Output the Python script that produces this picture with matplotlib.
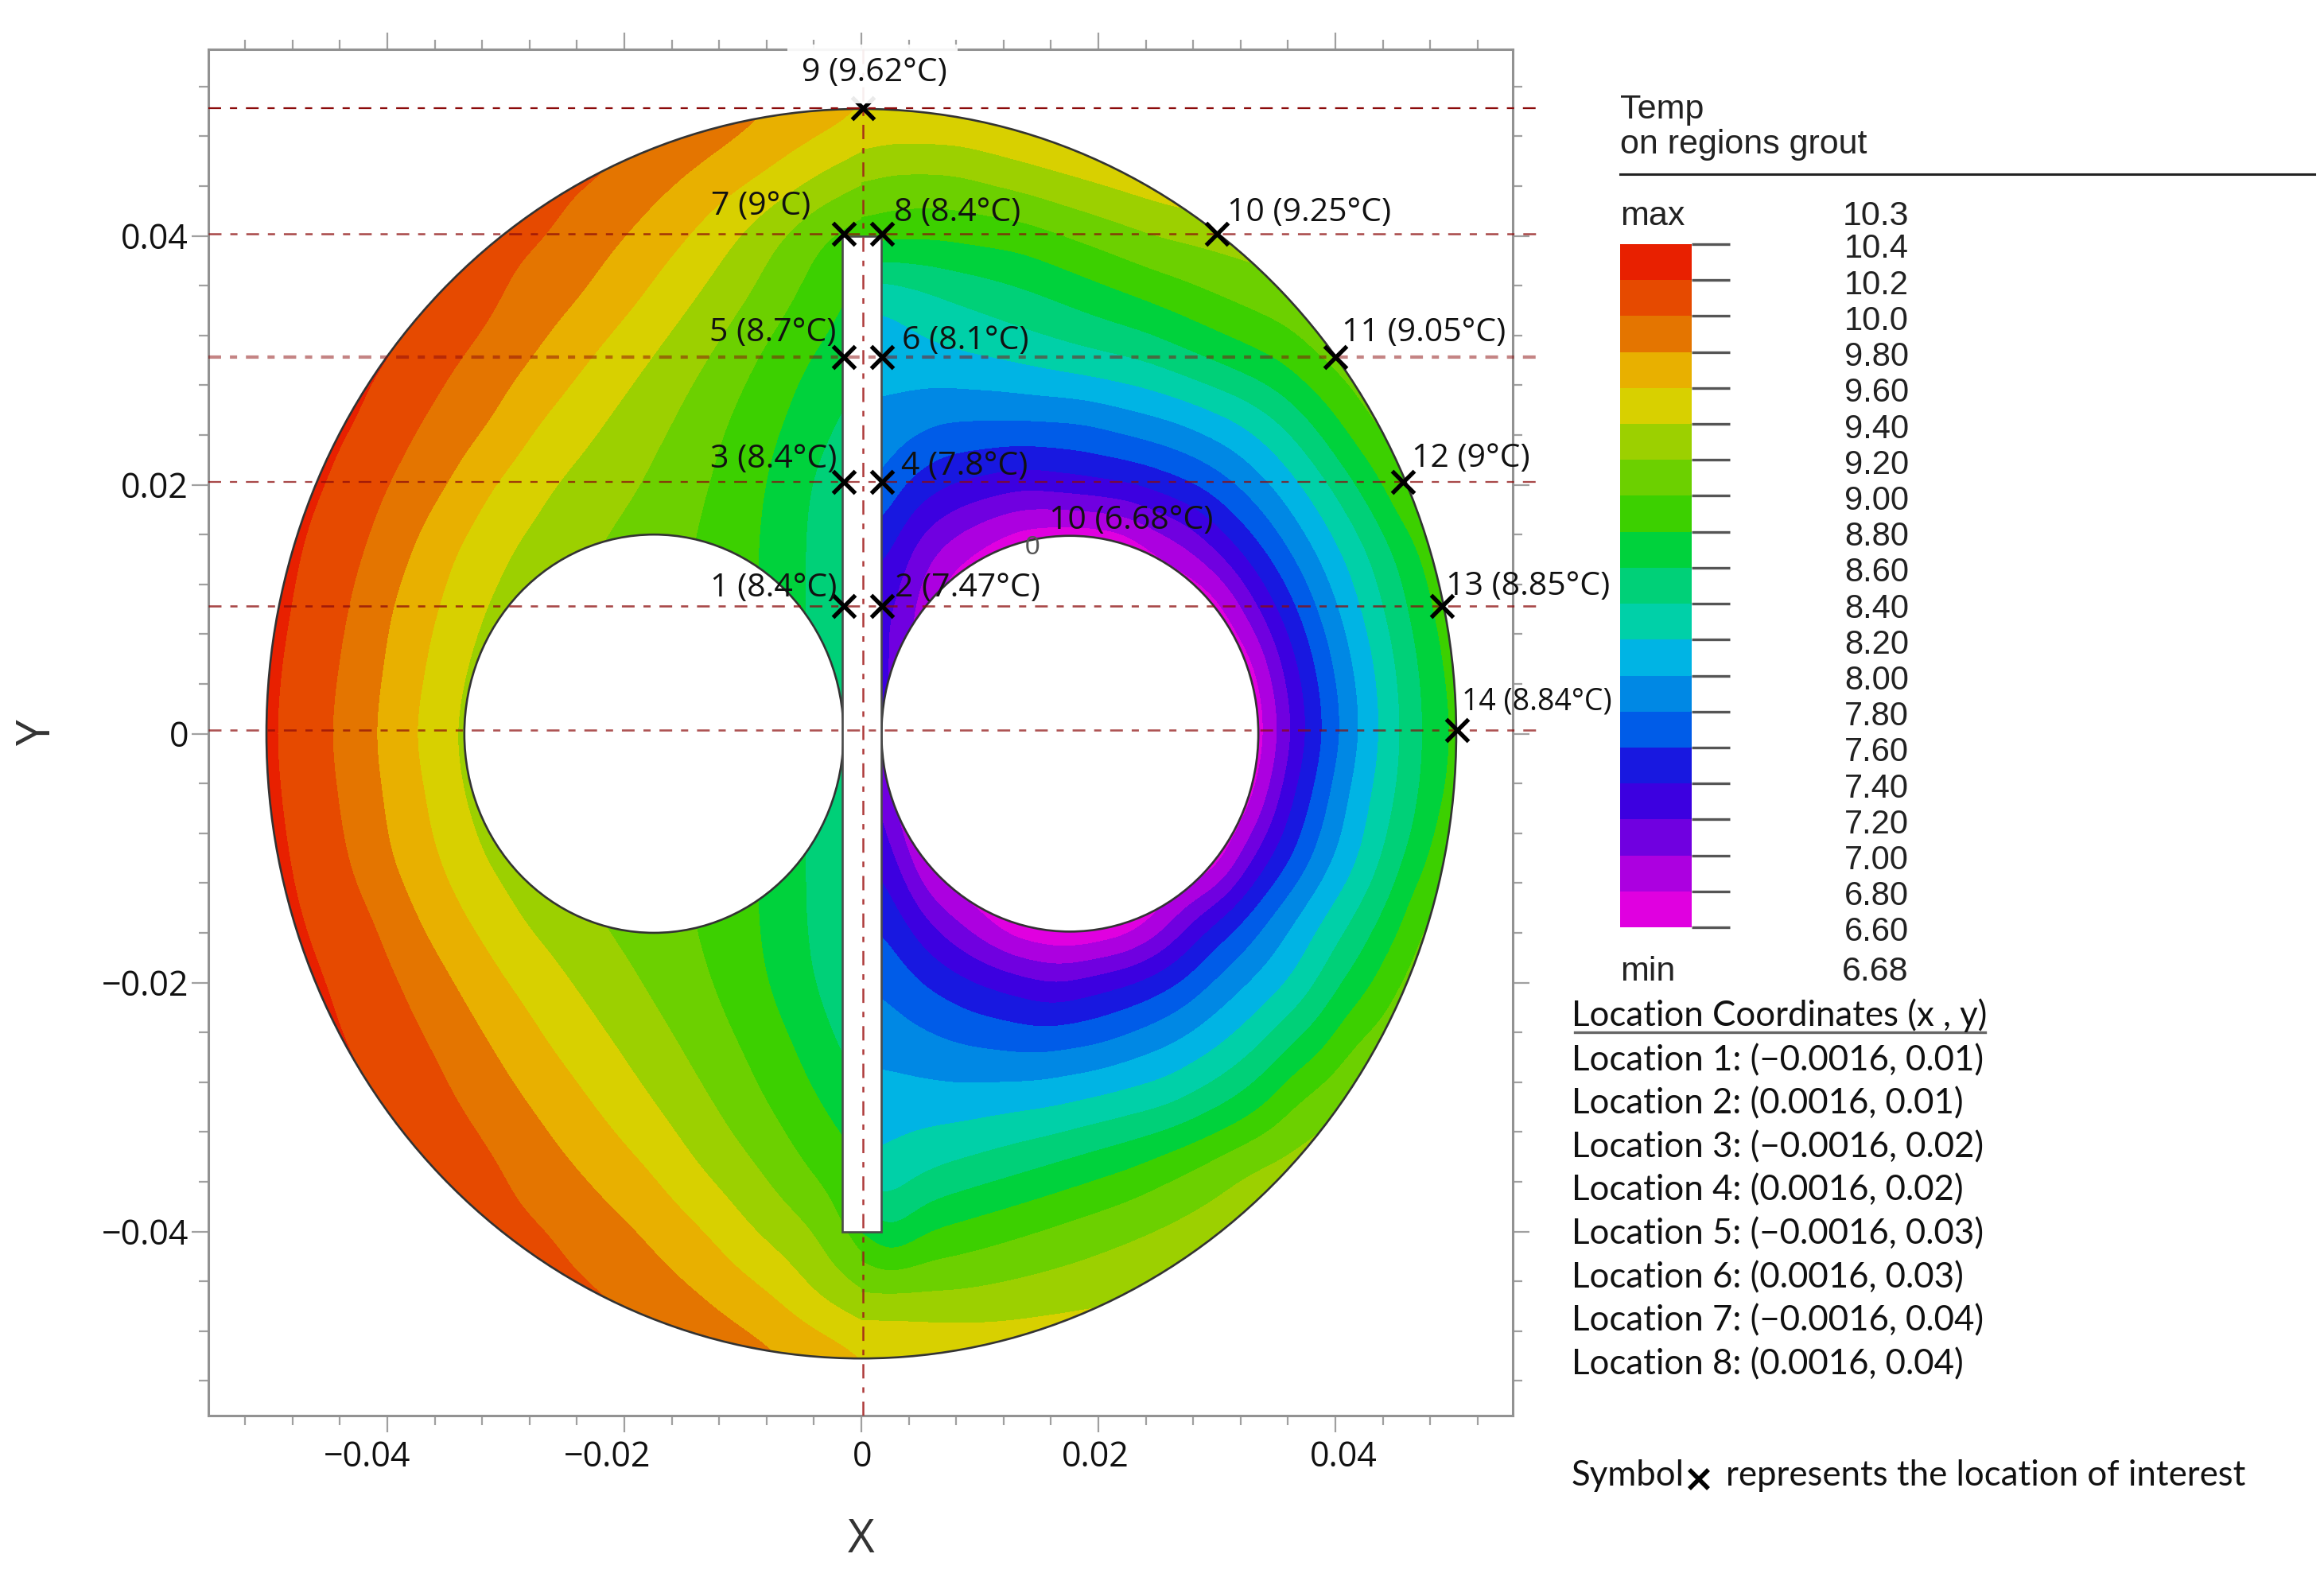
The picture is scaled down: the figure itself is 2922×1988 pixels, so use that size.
#!/usr/bin/env python
#------------------------------

import numpy as np
import matplotlib
matplotlib.use('Agg')
import matplotlib.pyplot as plt
import matplotlib.patches as mpatches
import matplotlib.transforms as mtrans
from matplotlib.colors import ListedColormap, BoundaryNorm
from matplotlib.ticker import MultipleLocator

nan = float('nan')
plt.rcParams['lines.scale_dashes'] = False

#------------------------------
# colour bands, top of the legend to the bottom
cbar_levels = [10.4, 10.2, 10.0, 9.8, 9.6, 9.4, 9.2, 9.0, 8.8, 8.6, 8.4, 8.2,
               8.0, 7.8, 7.6, 7.4, 7.2, 7.0, 6.8, 6.6]
cbar_labels = ['10.4', '10.2', '10.0', '9.80', '9.60', '9.40', '9.20', '9.00', '8.80', '8.60',
               '8.40', '8.20', '8.00', '7.80', '7.60', '7.40', '7.20', '7.00', '6.80', '6.60']
cbar_colors = ['#e82000', '#e64a00', '#e47500', '#e8b000', '#d8d000', '#9cd000', '#6cd000',
               '#3cd000', '#00d23c', '#00d078', '#00d0a8', '#00b4e4', '#0088e4', '#005ce8',
               '#1818e0', '#3c00e0', '#7000e0', '#ac00e0', '#e000e0']

# rows of the readings, mm
y_rows = [50, 45, 40, 35, 30, 25, 20, 15, 10, 5, 0, -5, -10, -15, -20, -25, -30, -35, -40, -45, -50]

# left of the slot: x (mm) of each isotherm on each row
left_levels = [10.2, 10.0, 9.8, 9.6, 9.4, 9.2, 9.0, 8.8, 8.6]
iso_102 = [nan, nan, nan, -36.0, -39.6, -42.3, -44.8, -46.7, -47.7, -48.5, -48.85,
           -48.5, -47.8, -46.7, -44.8, -43.0, -40.0, -37.4, nan, nan, nan]
iso_100 = [-15.5, -21.4, -26.2, -30.4, -34.0, -37.2, -39.9, -41.8, -43.2, -44.1, -44.6,
           -44.1, -43.2, -41.0, -38.9, -36.4, -33.8, -30.3, -26.2, -21.5, -15.7]
iso_098 = [-7.9, -14.7, -19.9, -23.8, -27.9, -31.3, -34.9, -37.8, -39.6, -40.4, -40.9,
           -40.4, -39.6, -37.4, -34.4, -31.3, -27.9, -24.0, -18.9, -13.7, -6.3]
iso_096 = [0.2, -8.3, -14.5, -18.6, -23.0, -27.2, -31.0, -34.0, -35.7, -36.8, -37.5,
           -36.7, -35.6, -33.2, -29.9, -26.4, -22.5, -18.0, -13.2, -7.6, 0.5]
iso_094 = [4.2, -3.5, -10.3, -14.0, -17.9, -21.7, -25.9, -29.4, -31.9, -33.6, -34.4,
           -33.8, -32.0, -28.7, -24.5, -20.8, -17.2, -13.5, -9.0, -3.9, 4.6]
iso_092 = [nan, 1.9, -6.6, -9.6, -13.0, -15.9, -18.6, -22.1, -25.5, -28.0, -29.0,
           -28.0, -25.5, -22.1, -18.6, -15.4, -12.3, -8.6, -3.9, 0.5, nan]
iso_090 = [nan, nan, -2.9, -5.7, -8.9, -11.3, -12.8, -14.0, -14.2, -14.2, -14.2,
           -14.2, -14.2, -13.9, -12.5, -10.3, -7.8, -4.6, -1.5, 4.6, nan]
iso_088 = [nan, nan, 2.9, -1.5, -4.6, -6.6, -8.0, -8.5, -8.5, -8.5, -8.5,
           -8.5, -8.5, -8.5, -7.8, -5.7, -3.2, 0.4, 1.5, nan, nan]
iso_086 = [nan, nan, nan, 5.0, 2.0, -2.0, -4.2, -4.7, -4.7, -4.9, -4.8,
           -4.8, -4.7, -4.6, -3.9, -2.0, 1.2, 4.0, nan, nan, nan]
left_iso = [iso_102, iso_100, iso_098, iso_096, iso_094, iso_092, iso_090, iso_088, iso_086]

# right of the slot: x (mm) and temperature read along each row
right_x = [
    [0, 1.8, 8.6, 32.3],
    [0, 1.8, 4.5, 7.9, 17, 27.2],
    [0, 1.7, 6, 13.7, 17.2, 24.8, 39],
    [1.7, 7.25, 16, 23.5, 30.6, 39],
    [1.7, 12, 23.8, 29.6, 35.3, 38.85, 44.1],
    [1.7, 6.6, 12, 18.7, 26.85, 31.9, 35.3, 38, 40.4, 43.1, 47.5],
    [1.7, 3.4, 7.25, 13.7, 23.1, 28.4, 31.75, 34.6, 37.1, 39.5, 41.7, 44.1, 45.95, 49.2],
    [1.7, 2.85, 4.2, 6.6, 9.95, 13.7, 18.1, 22.1, 24.1, 27.55, 29.6, 31.65, 33.85, 36, 38.1,
     40.3, 42.5, 44.6, 47, 48.8],
    [1.7, 2.85, 4.5, 6.05, 7.9, 18.1, 28.9, 30.9, 32.2, 33.55, 35.1, 36.8, 38.5, 40.3, 42.2,
     44.1, 46.1, 48.4, 50.2],
    [1.7, 2.85, 4.2, 5.55, 7.25, 18.1, 32.3, 33.5, 34.45, 35.55, 36.9, 38.4, 39.9, 41.5, 43.4,
     45.1, 47, 49.2, 51.5],
    [1.7, 2.85, 4.2, 5.55, 7.25, 18.1, 32.9, 34.3, 35.1, 36.15, 37.5, 38.9, 40.4, 41.9, 43.75,
     45.4, 47.3, 49.5, 52.5],
    [1.7, 2.1, 2.85, 3.7, 5.2, 18.1, 32, 33.3, 34.3, 35.2, 36.5, 38, 39.5, 41.05, 43,
     45.1, 46.9, 49.1, 51.5],
    [1.7, 2.85, 4.4, 5.05, 7.25, 18.1, 29.4, 30.9, 31.75, 33.1, 34.5, 36.3, 38, 39.8, 42,
     43.85, 45.7, 48, 49.5],
    [1.7, 3.7, 5.55, 7.9, 10.6, 13, 18.1, 22.1, 24.65, 26.35, 28, 30, 32.3, 34.3, 36.65,
     38.9, 41.4, 43.6, 45.95, 47.1],
    [1.7, 5.05, 9.6, 16.4, 23.1, 26.9, 29.55, 32.7, 36, 38.4, 40.5, 43.25, 45.3, 49.2],
    [1.7, 8.4, 14.7, 20.1, 26.2, 30.4, 33.7, 36.3, 39.4, 41.4, 46.5],
    [1.7, 8.6, 16.2, 25.8, 30.3, 33.95, 36.3, 40.7],
    [1.7, 6.05, 14.7, 22.5, 27.9, 32.9, 42.4],
    [0, 1.7, 2.7, 5.4, 14.85, 24.5, 34.3],
    [0, 8.6, 25.5, 42.4],
    [0, 1.8, 12, 25.5],
]
right_t = [
    [9.63, 9.58, 9.6, 9.9],
    [9.25, 9.2, 9.19, 9.2, 9.4, 9.6],
    [8.9, 8.85, 8.83, 8.9, 9.0, 9.2, 9.4],
    [8.24, 8.4, 8.6, 8.8, 9.0, 9.2],
    [8.08, 8.2, 8.4, 8.6, 8.8, 9.0, 9.2],
    [7.95, 7.8, 7.78, 7.8, 8.0, 8.2, 8.4, 8.6, 8.8, 9.0, 9.2],
    [7.8, 7.6, 7.4, 7.25, 7.4, 7.6, 7.8, 8.0, 8.2, 8.4, 8.6, 8.8, 9.0, 9.2],
    [7.5, 7.4, 7.2, 7.0, 6.8, 6.62, 6.55, 6.62, 6.8, 7.0, 7.2, 7.4, 7.6, 7.8, 8.0,
     8.2, 8.4, 8.6, 8.8, 9.0],
    [7.3, 7.2, 7.0, 6.8, 6.6, 6.4, 6.6, 6.8, 7.0, 7.2, 7.4, 7.6, 7.8, 8.0, 8.2,
     8.4, 8.6, 8.8, 9.0],
    [7.28, 7.2, 7.0, 6.8, 6.6, 6.3, 6.6, 6.8, 7.0, 7.2, 7.4, 7.6, 7.8, 8.0, 8.2,
     8.4, 8.6, 8.8, 9.0],
    [7.25, 7.2, 7.0, 6.8, 6.6, 6.2, 6.6, 6.8, 7.0, 7.2, 7.4, 7.6, 7.8, 8.0, 8.2,
     8.4, 8.6, 8.8, 9.0],
    [7.25, 7.2, 7.0, 6.8, 6.6, 6.3, 6.6, 6.8, 7.0, 7.2, 7.4, 7.6, 7.8, 8.0, 8.2,
     8.4, 8.6, 8.8, 9.0],
    [7.4, 7.2, 7.0, 6.8, 6.6, 6.4, 6.6, 6.8, 7.0, 7.2, 7.4, 7.6, 7.8, 8.0, 8.2,
     8.4, 8.6, 8.8, 9.0],
    [7.59, 7.4, 7.2, 7.0, 6.8, 6.6, 6.5, 6.6, 6.8, 7.0, 7.2, 7.4, 7.6, 7.8, 8.0,
     8.2, 8.4, 8.6, 8.8, 9.0],
    [7.78, 7.6, 7.4, 7.19, 7.4, 7.6, 7.8, 8.0, 8.2, 8.4, 8.6, 8.8, 9.0, 9.2],
    [7.935, 7.8, 7.73, 7.8, 8.0, 8.2, 8.4, 8.6, 8.8, 9.0, 9.2],
    [8.11, 8.12, 8.2, 8.4, 8.6, 8.8, 9.0, 9.2],
    [8.25, 8.4, 8.6, 8.8, 9.0, 9.2, 9.4],
    [8.88, 8.58, 8.6, 8.8, 9.0, 9.2, 9.4],
    [9.2, 9.22, 9.4, 9.8],
    [9.63, 9.6, 9.55, 9.6],
]

# locations of interest, as drawn in the picture (sits a little off the tick grid)
point_x = [-0.00145, 0.00175, -0.00145, 0.00175, -0.00145, 0.00175, -0.00145, 0.00175,
           0.00015, 0.03, 0.04, 0.0457, 0.049, 0.0503]
point_y = [0.01026, 0.01026, 0.02026, 0.02026, 0.03026, 0.03026, 0.04016, 0.04016,
           0.05026, 0.04016, 0.03026, 0.02026, 0.01026, 0.00026]
guide_y = [0.05026, 0.04016, 0.03026, 0.02026, 0.01026, 0.00026]
guide_lw = [1.6, 1.8, 3.0, 1.6, 1.9, 1.9]
guide_alpha = [1.0, 0.75, 0.5, 0.75, 0.75, 0.7]

x_major = [-0.04, -0.02, 0, 0.02, 0.04]
x_major_labels = ['\u22120.04', '\u22120.02', '0', '0.02', '0.04']
y_major = [-0.04, -0.02, 0, 0.02, 0.04]
y_major_labels = ['\u22120.04', '\u22120.02', '0', '0.02', '0.04']

location_lines = ['Location 1: (\u22120.0016, 0.01)', 'Location 2: (0.0016, 0.01)',
                  'Location 3: (\u22120.0016, 0.02)', 'Location 4: (0.0016, 0.02)',
                  'Location 5: (\u22120.0016, 0.03)', 'Location 6: (0.0016, 0.03)',
                  'Location 7: (\u22120.0016, 0.04)', 'Location 8: (0.0016, 0.04)']
location_base = [1346, 1400, 1455, 1509, 1564, 1619, 1673, 1728]

# text, left edge and baseline in pixels
point_labels = [('1 (8.4\u00b0C)', 893, 750), ('2 (7.47\u00b0C)', 1125, 750),
                ('3 (8.4\u00b0C)', 893, 588), ('4 (7.8\u00b0C)', 1133, 597),
                ('5 (8.7\u00b0C)', 892, 429), ('6 (8.1\u00b0C)', 1134, 439),
                ('7 (9\u00b0C)', 894, 270), ('8 (8.4\u00b0C)', 1124, 278),
                ('9 (9.62\u00b0C)', 1008, 102), ('10 (9.25\u00b0C)', 1543, 278),
                ('11 (9.05\u00b0C)', 1687, 429), ('12 (9\u00b0C)', 1775, 587),
                ('13 (8.85\u00b0C)', 1818, 748), ('10 (6.68\u00b0C)', 1319, 665)]

#------------------------------

def smooth_rows(z, y, n) :
    # Catmull-Rom between the read rows, along y
    out, yout = [], []
    for i in range(len(y)-1) :
        p0, p1, p2, p3 = z[max(i-1,0)], z[i], z[i+1], z[min(i+2,len(y)-1)]
        for t in np.arange(n)/n :
            out.append(0.5*(2*p1 + (p2-p0)*t + (2*p0-5*p1+4*p2-p3)*t**2 + (3*p1-p0-3*p2+p3)*t**3))
            yout.append(y[i] + (y[i+1]-y[i])*t)
    out.append(z[-1])
    yout.append(y[-1])
    return np.array(yout), np.array(out)

def blur(z, sigma, axis) :
    # gaussian over grid samples, takes the kinks of the hand readings out
    half = int(3*sigma)
    k = np.exp(-0.5*(np.arange(-half, half+1)/sigma)**2)
    k /= k.sum()
    pad = [(0, 0), (0, 0)]
    pad[axis] = (half, half)
    zp = np.pad(z, pad, mode='edge')
    return np.apply_along_axis(lambda v : np.convolve(v, k, mode='valid'), axis, zp)

def left_field(xg) :
    rows = []
    for j in range(len(y_rows)) :
        xs = [iso[j] for iso in left_iso if iso[j] == iso[j]]
        ts = [lev for iso, lev in zip(left_iso, left_levels) if iso[j] == iso[j]]
        xs = [-70.] + xs + [xs[-1]+15.]
        ts = [10.6] + ts + [ts[-1]-0.8]
        rows.append(np.interp(xg, xs, ts))
    return rows

def right_field(xg) :
    rows = []
    for xs, ts in zip(right_x, right_t) :
        rows.append(np.interp(xg, xs + [70.], ts + [ts[-1]+0.8]))
    return rows

def grid_field(rows) :
    # rows go from the top down, contourf gets them from the bottom up
    y = np.array([55.] + y_rows + [-55.])[::-1]
    z = np.array([rows[0]] + rows + [rows[-1]])[::-1]
    yf, zf = smooth_rows(z, y, 8)
    zf = blur(zf, 5.0, 1)   # 1.25 mm, grid step 0.25 mm
    zf = blur(zf, 2.4, 0)   # 1.5 mm, grid step 0.625 mm
    return yf, zf

#------------------------------

fig = plt.figure(figsize=(29.22, 19.88), dpi=100)
fw, fh = 2922., 1988.

font_tick = 'Open Sans'
frame_col = '#929292'

ax = fig.add_axes([262/fw, 1-1780/fh, 1640/fw, 1718/fh])
ax.set_xlim(-0.0551, 0.05497)
ax.set_ylim(-0.05479, 0.05499)

edges = cbar_levels[::-1]
cmap = ListedColormap(cbar_colors[::-1])
norm = BoundaryNorm(edges, cmap.N)

R_out = 0.0502

xl = np.arange(-58, 6.01, 0.25)
yl, zl = grid_field(left_field(xl))
cl = ax.contourf(xl*1e-3, yl*1e-3, np.clip(zl, 6.61, 10.39), levels=edges, cmap=cmap, norm=norm, zorder=1)
cl.set_clip_path(mpatches.Wedge((0, 0), R_out, 90, 270, transform=ax.transData))

xr = np.arange(-4, 58.01, 0.25)
yr, zr = grid_field(right_field(xr))
cr = ax.contourf(xr*1e-3, yr*1e-3, np.clip(zr, 6.61, 10.39), levels=edges, cmap=cmap, norm=norm, zorder=1)
cr.set_clip_path(mpatches.Wedge((0, 0), R_out, -90, 90, transform=ax.transData))

edge = '#333333'
ax.add_patch(mpatches.Circle((0, 0), R_out, fill=False, ec=edge, lw=1.9, zorder=2))
ax.add_patch(mpatches.Circle((-0.0175, 0), 0.016, fc='white', ec=edge, lw=1.9, zorder=2))
ax.add_patch(mpatches.Circle((0.0176, 0), 0.0159, fc='white', ec=edge, lw=1.9, zorder=2))
ax.add_patch(mpatches.Rectangle((-0.0016, -0.04), 0.0033, 0.08, fc='white', ec='#4a4a4a', lw=1.9, zorder=2.1))

dash = (0, (11.5, 8, 6.5, 8))
for y, lw, al in zip(guide_y, guide_lw, guide_alpha) :
    ax.plot([-0.0551, 0.0572], [y, y], color='#8b0a0a', lw=lw, alpha=al, ls=dash, clip_on=False, zorder=3)
ax.plot([0.00015, 0.00015], [0.05499, -0.05479], color='#a01818', lw=1.8, alpha=0.85, ls=(0, (13, 8, 5, 8)), zorder=3)

ax.plot(point_x, point_y, ls='none', marker='x', ms=20, mew=3.8, color='black', zorder=4, clip_on=False)

for s in ax.spines.values() :
    s.set_color(frame_col)
    s.set_linewidth(2.2)

ax.tick_params(which='both', top=True, right=True, color='#a0a0a0', width=1.6)
ax.tick_params(which='major', length=15, pad=7)
ax.tick_params(which='minor', length=8.5)
ax.xaxis.set_minor_locator(MultipleLocator(0.004))
ax.yaxis.set_minor_locator(MultipleLocator(0.004))
ax.set_xticks(x_major)
ax.set_xticklabels(x_major_labels, fontfamily=font_tick, fontsize=31, color='#111111')
ax.set_yticks(y_major)
ax.set_yticklabels(y_major_labels, fontfamily=font_tick, fontsize=31, color='#111111')
ax.tick_params(axis='y', which='major', pad=3)

# the x labels do not sit centred on their ticks in the original
x_shift = [-25, -21, 1, -4, 10]
for lab, dx in zip(ax.get_xticklabels(), x_shift) :
    lab.set_transform(lab.get_transform() + mtrans.ScaledTranslation(dx/100., 0, fig.dpi_scale_trans))

#------------------------------
# legend bar
axc = fig.add_axes([2037/fw, 1-1166/fh, 90/fw, 859/fh])
axc.pcolormesh([0, 1], edges, np.arange(len(cbar_colors)).reshape(-1, 1), cmap=cmap, shading='flat')
axc.set_xlim(0, 1)
axc.set_ylim(6.6, 10.4)
axc.set_xticks([])
axc.yaxis.tick_right()
axc.set_yticks(cbar_levels)
axc.set_yticklabels(cbar_labels, fontfamily='Liberation Sans', fontsize=30, color='#222222', ha='right')
axc.tick_params(axis='y', length=34.5, width=2.4, color='#555555', pad=162)
for lab in axc.get_yticklabels() :
    lab.set_transform(lab.get_transform() + mtrans.ScaledTranslation(0, -0.02, fig.dpi_scale_trans))
for s in axc.spines.values() :
    s.set_visible(False)

#------------------------------
# everything placed by pixel
axp = fig.add_axes([0, 0, 1, 1], facecolor='none')
axp.set_xlim(0, fw)
axp.set_ylim(fh, 0)
axp.axis('off')

axp.add_patch(mpatches.Rectangle((990, 56), 214, 74, fc='white', ec='none', alpha=0.92, zorder=1))

for s, x, y in point_labels :
    axp.text(x, y, s, fontfamily=font_tick, fontsize=29.5, color='#111111', va='baseline', ha='left', zorder=3)
axp.text(1838, 892, '14 (8.84\u00b0C)', fontfamily=font_tick, fontsize=27, color='#111111', va='baseline', zorder=3)
axp.text(1298, 697, '0', fontfamily='Liberation Sans', fontsize=24, color='#555555', ha='center', va='baseline', zorder=3)

axp.text(1083, 1952, 'X', fontfamily=font_tick, fontsize=42, color='#333333', ha='center', va='baseline')
axp.text(48, 922, 'Y', fontfamily=font_tick, fontsize=42, color='#333333', rotation=90, ha='center', va='center')

leg = dict(fontfamily='Liberation Sans', fontsize=31, color='#222222', va='baseline')
axp.text(2037, 149, 'Temp', **leg)
axp.text(2037, 193, 'on regions grout', **leg)
axp.plot([2037, 2910], [219, 219], color='#222222', lw=2.2)
axp.text(2037, 283, 'max', **leg)
axp.text(2400, 283, '10.3', ha='right', **leg)
axp.text(2037, 1233, 'min', **leg)
axp.text(2400, 1233, '6.68', ha='right', **leg)

loc = dict(fontfamily='Lato', fontsize=31.5, color='#111111', va='baseline')
axp.text(1976, 1290, 'Location Coordinates (x , y)', **loc)
axp.plot([1980, 2496], [1298, 1298], color='#666666', lw=2.4)
for s, y in zip(location_lines, location_base) :
    axp.text(1976, y, s, **loc)
axp.text(1976, 1868, 'Symbol', **loc)
axp.plot([2144-8], [1860], marker='x', ms=17, mew=4, color='black', ls='none')
axp.text(2170, 1868, 'represents the location of interest', **loc)

fig.savefig('out.png', dpi=100)
